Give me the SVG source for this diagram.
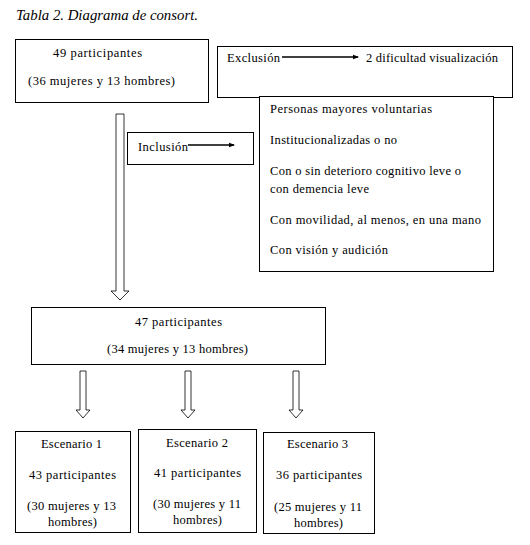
<svg xmlns="http://www.w3.org/2000/svg" width="530" height="545" viewBox="0 0 530 545">
<style>
  text { font-family: "Liberation Serif", serif; font-size: 12.5px; fill: #000; }
  .c { text-anchor: middle; }
  .title { font-style: italic; font-size: 15px; }
  .box { fill: #fff; stroke: #000; stroke-width: 1; }
  .blk { fill: #fff; stroke: #000; stroke-width: 0.8; }
  .ln { stroke: #000; stroke-width: 1.3; fill: none; }
</style>
<defs>
  <marker id="ah" viewBox="0 0 6 6" refX="5" refY="3" markerWidth="6" markerHeight="6" markerUnits="userSpaceOnUse" orient="auto">
    <path d="M0,0.8 L6,3 L0,5.2 Z" fill="#000"/>
  </marker>
</defs>
<rect width="530" height="545" fill="#fff"/>
<text class="title" x="16" y="20" textLength="182" lengthAdjust="spacingAndGlyphs">Tabla 2. Diagrama de consort.</text>

<g id="connectors">
  <path class="blk" d="M116,114 H124 V291 H129 L120,300 L111,291 H116 Z"/>
  <path class="blk" d="M80,371 H86 V410 H90 L83,418 L76,410 H80 Z"/>
  <path class="blk" d="M185,371 H191 V410 H195 L188,418 L181,410 H185 Z"/>
  <path class="blk" d="M293,371 H299 V410 H303 L296,418 L289,410 H293 Z"/>
</g>

<g id="n49">
  <rect class="box" x="15.5" y="39.5" width="193" height="63"/>
  <text class="c" x="97.5" y="57" textLength="89">49 participantes</text>
  <text class="c" x="101.5" y="85" textLength="147">(36 mujeres y 13 hombres)</text>
</g>

<g id="exclusion">
  <rect class="box" x="217.5" y="46.5" width="295" height="51"/>
  <text x="227" y="62" textLength="53">Exclusión</text>
  <line class="ln" x1="282" y1="57" x2="358" y2="57" marker-end="url(#ah)"/>
  <text x="366" y="62" textLength="132">2 dificultad visualización</text>
</g>

<g id="inclusion">
  <rect class="box" x="127.5" y="132.5" width="126" height="32"/>
  <text x="138" y="151" textLength="50">Inclusión</text>
  <line class="ln" x1="188" y1="145" x2="234" y2="145" marker-end="url(#ah)"/>
</g>

<g id="criterios">
  <rect class="box" x="259.5" y="96.5" width="234" height="175"/>
  <text x="270" y="113" textLength="162">Personas mayores voluntarias</text>
  <text x="270" y="144" textLength="127">Institucionalizadas o no</text>
  <text x="270" y="175" textLength="191">Con o sin deterioro cognitivo leve o</text>
  <text x="270" y="193" textLength="99">con demencia leve</text>
  <text x="270" y="224" textLength="211">Con movilidad, al menos, en una mano</text>
  <text x="270" y="254" textLength="118">Con visión y audición</text>
</g>

<g id="n47">
  <rect class="box" x="31.5" y="307.5" width="294" height="57"/>
  <text class="c" x="178.5" y="326" textLength="87">47 participantes</text>
  <text class="c" x="177.5" y="353" textLength="141">(34 mujeres y 13 hombres)</text>
</g>

<g id="esc1">
  <rect class="box" x="15.5" y="431.5" width="115" height="101"/>
  <text class="c" x="71.5" y="448" textLength="61">Escenario 1</text>
  <text class="c" x="72.5" y="479" textLength="87">43 participantes</text>
  <text class="c" x="71.5" y="510" textLength="89">(30 mujeres y 13</text>
  <text class="c" x="72.5" y="526" textLength="49">hombres)</text>
</g>

<g id="esc2">
  <rect class="box" x="138.5" y="429.5" width="118" height="103"/>
  <text class="c" x="197" y="447" textLength="62">Escenario 2</text>
  <text class="c" x="197.5" y="477" textLength="87">41 participantes</text>
  <text class="c" x="197" y="508" textLength="88">(30 mujeres y 11</text>
  <text class="c" x="197.5" y="524" textLength="49">hombres)</text>
</g>

<g id="esc3">
  <rect class="box" x="263.5" y="432.5" width="111" height="101"/>
  <text class="c" x="317.5" y="448" textLength="61">Escenario 3</text>
  <text class="c" x="319" y="479" textLength="86">36 participantes</text>
  <text class="c" x="318" y="511" textLength="88">(25 mujeres y 11</text>
  <text class="c" x="318.5" y="527" textLength="49">hombres)</text>
</g>
</svg>
